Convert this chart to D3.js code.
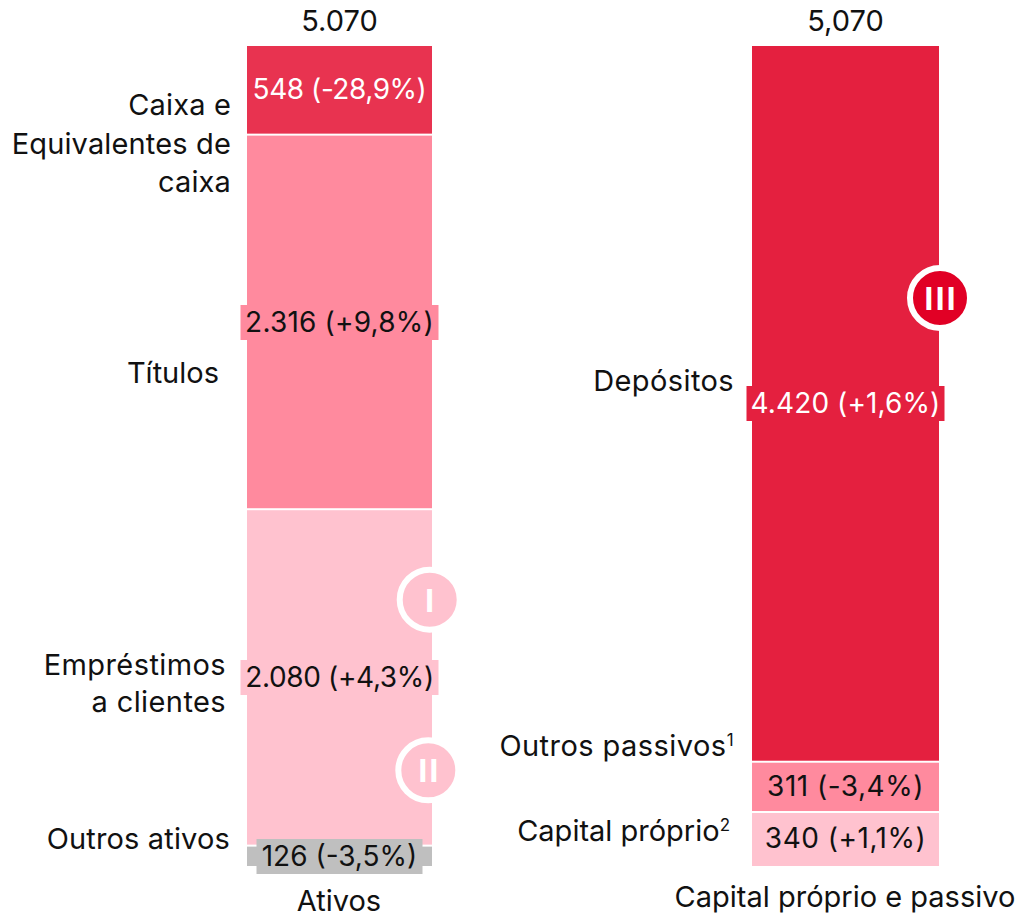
<!DOCTYPE html>
<html><head><meta charset="utf-8">
<script src="https://cdn.jsdelivr.net/npm/d3@7/dist/d3.min.js"></script>
<style>html,body{margin:0;padding:0;background:#fff}svg{display:block}text{font-family:"Inter","Noto Sans",sans-serif;font-size:29px}text.val{font-size:28px}</style>
</head><body><svg id="c" width="1022" height="918"></svg>
<script>
const columns = ["Ativos", "Capital próprio e passivo"];
const totals = ["5.070", "5,070"];
const assetNames = ["Caixa e Equivalentes de caixa", "Títulos", "Empréstimos a clientes", "Outros ativos"];
const assetValues = [548, 2316, 2080, 126];
const assetChanges = ["-28,9%", "+9,8%", "+4,3%", "-3,5%"];
const liabilityNames = ["Depósitos", "Outros passivos", "Capital próprio"];
const liabilityValues = [4420, 311, 340];
const liabilityChanges = ["+1,6%", "-3,4%", "+1,1%"];
const badges = ["I", "II", "III"];

const assetColors = ["#E83350", "#FF8A9E", "#FFC2CF", "#BFBFBF"];
const liabilityColors = ["#E4203F", "#FF8A9E", "#FFC2CF"];
const assetText = ["#fff", "#111", "#111", "#111"];
const liabilityText = ["#fff", "#111", "#111"];
const assetTracking = [-0.45, 0.2, -0.35, 0];
const liabilityTracking = [0.1, 0.5, 0.5];
const fmt = v => v >= 1000 ? d3.format(",")(v).replace(",", ".") : String(v);

const svg = d3.select("#c");
const y = d3.scaleLinear().domain([0, 5070]).range([866, 46]);
const x = d3.scaleOrdinal().domain(columns).range([247, 752]);
const bw = d3.scaleOrdinal().domain(columns).range([185, 187]);

function stack(vals, names, changes, colors, texts, col, tracking, gapAbove, gapBelow) {
  const total = d3.sum(vals);
  let acc = total;
  const rows = vals.map((v, i) => {
    const top = acc; acc -= v;
    return {v, name: names[i], change: changes[i], color: colors[i], text: texts[i], top, bottom: acc, track: tracking[i]};
  });
  const yTop = d => d.top === total ? 46 : y(d.top) + gapBelow;
  const yBot = d => d.bottom === 0 ? y(0) : y(d.bottom) - gapAbove;
  svg.append("g").selectAll("rect.seg").data(rows).join("rect").attr("class", "seg")
    .attr("x", x(col)).attr("width", bw(col))
    .attr("y", yTop)
    .attr("height", d => yBot(d) - yTop(d))
    .attr("fill", d => d.color);
  return {rows};
}
const cx = c => x(c) + bw(c) / 2;

const left = stack(assetValues, assetNames, assetChanges, assetColors, assetText, columns[0], assetTracking, 1, 1);
const right = stack(liabilityValues, liabilityNames, liabilityChanges, liabilityColors, liabilityText, columns[1], liabilityTracking, 0, 2);

// badges
const badgeAt = [[429.7, 599.7, "#FFC2CF", "#fff"], [428.3, 770.3, "#FFC2CF", "#fff"], [940, 298, "#E10025", "#fff"]];
badges.forEach((b, i) => {
  const [bx, by, fill, ink] = badgeAt[i];
  svg.append("circle").attr("cx", bx).attr("cy", by).attr("r", 30).attr("fill", fill).attr("stroke", "#fff").attr("stroke-width", 6);
  svg.append("text").attr("x", bx + 1).attr("y", by + 12).attr("text-anchor", "middle")
    .style("font-family", "'Liberation Sans'").style("font-weight", 700).style("font-size", "33px").style("letter-spacing", "2px")
    .attr("fill", ink).text(b);
});

// value labels
function valueLabels(st, col, chips) {
  st.rows.forEach((d, i) => {
    const my = (y(d.top) + y(d.bottom)) / 2;
    const mx = cx(col);
    if (chips[i][0]) svg.append("rect").attr("x", mx - chips[i][0] / 2).attr("y", Math.round(my - 17.2))
      .attr("width", chips[i][0]).attr("height", chips[i][1]).attr("fill", d.color);
    svg.append("text").attr("class", "val").attr("x", mx).attr("y", Math.round(my - 17.2) + 26.5 - (i === 0 && col === columns[0] ? 0.5 : 0)).attr("text-anchor", "middle").attr("fill", d.text)
      .style("letter-spacing", d.track + "px")
      .text(`${fmt(d.v)} (${d.change})`);
  });
}
valueLabels(left, columns[0], [[0, 0], [198, 35], [198, 35], [166, 35]]);
valueLabels(right, columns[1], [[198, 35], [0, 0], [0, 0]]);

// totals and column titles
columns.forEach((c, i) => {
  svg.append("text").attr("x", cx(c)).attr("y", 31).attr("text-anchor", "middle").attr("fill", "#111").text(totals[i]);
});
svg.append("text").attr("x", 339).attr("y", 911).attr("text-anchor", "middle").attr("fill", "#111").text(columns[0]);
svg.append("text").attr("x", 845).attr("y", 907).attr("text-anchor", "middle").attr("fill", "#111").text(columns[1]);

// category labels
function nameLabel(lines, rx, ys, sup, track) {
  lines.forEach((l, i) => {
    const t = svg.append("text").attr("x", rx).attr("y", ys[i]).attr("text-anchor", "end").attr("fill", "#111")
      .style("letter-spacing", (track || 0) + "px");
    t.append("tspan").text(l);
    if (sup) t.append("tspan").attr("dy", -10).style("font-size", "17px").text(sup);
  });
}
nameLabel(["Caixa e", "Equivalentes de", "caixa"], 231, [115, 154, 192], null, 0.15);
nameLabel([assetNames[1]], 219, [383]);
nameLabel(["Empréstimos", "a clientes"], 226, [675, 712], null, 0.4);
nameLabel([assetNames[3]], 230, [849], null, 0.15);
nameLabel([liabilityNames[0]], 734, [391], null, 0.4);
nameLabel([liabilityNames[1]], 734, [756], "1", 0.45);
nameLabel([liabilityNames[2]], 730, [841], "2");
</script></body></html>
